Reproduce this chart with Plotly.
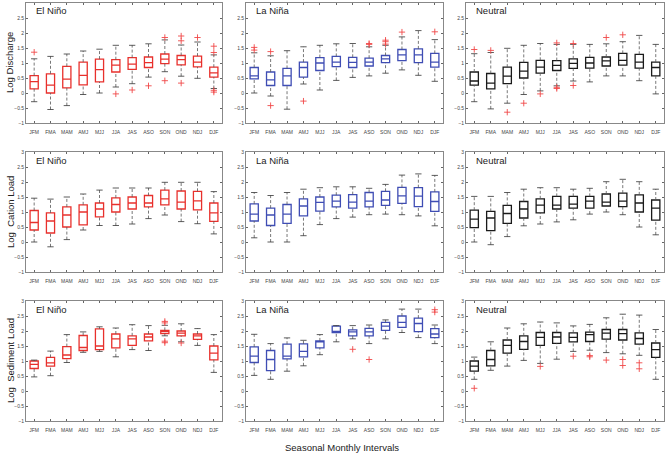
import plotly.graph_objects as go

months = ["JFM", "FMA", "MAM", "AMJ", "MJJ", "JJA", "JAS", "ASO", "SON", "OND", "NDJ", "DJF"]
phases = ["El Niño", "La Niña", "Neutral"]
variables = ["Log Discharge", "Log  Cation Load", "Log  Sediment Load"]

# ---- Log Discharge ----
dis_nino = dict(
    q1=[0.14, 0.00, 0.17, 0.27, 0.37, 0.70, 0.79, 0.85, 0.98, 0.94, 0.87, 0.53],
    med=[0.38, 0.26, 0.46, 0.59, 0.78, 0.93, 0.96, 1.01, 1.13, 1.11, 1.03, 0.67],
    q3=[0.58, 0.64, 0.89, 1.03, 1.13, 1.11, 1.18, 1.20, 1.30, 1.25, 1.23, 0.86],
    lo=[-0.29, -0.55, -0.42, -0.05, 0.00, 0.20, 0.31, 0.53, 0.71, 0.56, 0.49, 0.15],
    hi=[1.14, 1.22, 1.30, 1.40, 1.46, 1.59, 1.59, 1.64, 1.77, 1.60, 1.70, 1.27])
dis_nino_out = [[1.36], [], [], [], [], [-0.03], [0.10], [0.24], [1.85, 0.41],
                [1.90, 1.74, 0.33], [1.85], [1.56, 1.35, 0.09, 0.03]]

dis_nina = dict(
    q1=[0.47, 0.25, 0.25, 0.53, 0.75, 0.88, 0.85, 0.90, 1.01, 1.08, 1.01, 0.86],
    med=[0.57, 0.44, 0.57, 0.85, 1.00, 1.03, 1.02, 1.03, 1.14, 1.27, 1.27, 1.03],
    q3=[0.85, 0.70, 0.82, 1.03, 1.18, 1.22, 1.19, 1.16, 1.25, 1.45, 1.47, 1.32],
    lo=[0.00, -0.10, -0.54, 0.30, 0.10, 0.42, 0.52, 0.57, 0.66, 0.77, 0.59, 0.39],
    hi=[1.34, 1.24, 1.41, 1.54, 1.59, 1.64, 1.65, 1.54, 1.59, 1.87, 2.08, 1.78])
dis_nina_out = [[1.52, 1.43], [1.38, -0.42], [], [-0.27], [], [], [], [1.65, 1.62],
                [1.76, 1.71, 1.63], [2.03], [], [2.04]]

dis_neut = dict(
    q1=[0.26, 0.14, 0.31, 0.50, 0.66, 0.75, 0.82, 0.83, 0.90, 0.93, 0.83, 0.57],
    med=[0.40, 0.33, 0.56, 0.73, 0.86, 0.92, 0.99, 1.00, 1.07, 1.09, 1.03, 0.85],
    q3=[0.70, 0.65, 0.86, 1.02, 1.09, 1.08, 1.14, 1.19, 1.20, 1.32, 1.29, 1.03],
    lo=[-0.29, -0.53, -0.34, -0.05, 0.07, 0.24, 0.40, 0.37, 0.57, 0.57, 0.41, -0.03],
    hi=[1.31, 1.35, 1.49, 1.59, 1.65, 1.62, 1.62, 1.62, 1.64, 1.71, 1.92, 1.62])
dis_neut_out = [[1.45], [1.42], [-0.64], [-0.34], [-0.03], [1.67, 0.19, 0.15],
                [1.65, 0.25], [], [1.85], [1.94], [], []]

# ---- Log Cation Load ----
cat_nino = dict(
    q1=[0.40, 0.30, 0.50, 0.57, 0.84, 1.00, 1.10, 1.17, 1.24, 1.10, 1.07, 0.69],
    med=[0.65, 0.70, 0.90, 1.00, 1.10, 1.25, 1.30, 1.30, 1.44, 1.33, 1.37, 0.97],
    q3=[1.05, 0.97, 1.17, 1.24, 1.30, 1.47, 1.50, 1.55, 1.73, 1.70, 1.69, 1.30],
    lo=[0.00, -0.16, 0.08, 0.40, 0.55, 0.55, 0.60, 0.78, 0.90, 0.68, 0.61, 0.27],
    hi=[1.46, 1.43, 1.50, 1.60, 1.73, 1.80, 1.80, 1.80, 1.99, 1.99, 1.99, 1.68])
cat_nino_out = [[] for _ in range(12)]

cat_nina = dict(
    q1=[0.70, 0.55, 0.62, 0.87, 1.03, 1.17, 1.13, 1.17, 1.22, 1.29, 1.18, 1.02],
    med=[0.93, 0.90, 0.93, 1.20, 1.32, 1.36, 1.33, 1.36, 1.40, 1.54, 1.53, 1.35],
    q3=[1.27, 1.13, 1.25, 1.44, 1.50, 1.56, 1.58, 1.65, 1.69, 1.82, 1.81, 1.67],
    lo=[0.14, 0.00, 0.00, 0.21, 0.58, 0.78, 0.83, 0.91, 0.93, 0.91, 0.87, 0.54],
    hi=[1.65, 1.55, 1.65, 1.76, 1.81, 1.84, 1.84, 1.79, 1.92, 2.23, 2.27, 2.22])
cat_nina_out = [[] for _ in range(12)]

cat_neut = dict(
    q1=[0.48, 0.38, 0.62, 0.80, 0.97, 1.10, 1.13, 1.13, 1.20, 1.18, 1.00, 0.73],
    med=[0.76, 0.80, 0.95, 1.10, 1.23, 1.23, 1.26, 1.36, 1.33, 1.36, 1.30, 1.13],
    q3=[1.06, 1.02, 1.22, 1.35, 1.44, 1.52, 1.52, 1.52, 1.60, 1.63, 1.57, 1.40],
    lo=[0.00, -0.09, 0.18, 0.54, 0.60, 0.67, 0.74, 0.93, 1.00, 0.91, 0.50, 0.24],
    hi=[1.52, 1.52, 1.65, 1.76, 1.81, 1.81, 1.76, 1.79, 2.01, 2.09, 2.01, 1.76])
cat_neut_out = [[] for _ in range(12)]

# ---- Log Sediment Load ----
sed_nino = dict(
    q1=[0.75, 0.83, 1.08, 1.35, 1.38, 1.44, 1.52, 1.67, 1.91, 1.84, 1.72, 1.04],
    med=[0.89, 0.94, 1.20, 1.45, 1.50, 1.74, 1.74, 1.80, 1.98, 1.93, 1.84, 1.26],
    q3=[1.00, 1.12, 1.48, 1.85, 2.07, 1.90, 1.84, 1.90, 2.02, 2.00, 1.90, 1.50],
    lo=[0.47, 0.51, 0.95, 1.29, 1.32, 1.14, 1.38, 1.35, 1.84, 1.64, 1.52, 0.62],
    hi=[1.03, 1.33, 1.88, 1.97, 2.14, 2.10, 2.21, 2.18, 2.19, 2.24, 2.08, 1.88])
sed_nino_out = [[], [], [], [], [], [], [], [], [2.32, 2.27, 1.66, 1.61], [1.60], [], []]

sed_nina = dict(
    q1=[0.95, 0.68, 1.07, 1.14, 1.44, 1.95, 1.84, 1.84, 2.02, 2.12, 1.98, 1.78],
    med=[1.16, 1.05, 1.16, 1.32, 1.65, 1.97, 1.97, 1.97, 2.16, 2.29, 2.25, 1.90],
    q3=[1.47, 1.35, 1.56, 1.57, 1.67, 2.16, 2.04, 2.09, 2.29, 2.50, 2.43, 2.08],
    lo=[0.52, 0.39, 0.66, 0.84, 1.21, 1.64, 1.74, 1.58, 1.74, 1.95, 1.78, 1.58],
    hi=[1.89, 1.58, 1.77, 1.69, 1.88, 2.18, 2.18, 2.20, 2.37, 2.73, 2.73, 2.20])
sed_nina_out = [[], [], [], [], [], [], [1.39], [1.05], [], [], [], [2.71, 2.63]]

sed_neut = dict(
    q1=[0.66, 0.84, 1.26, 1.39, 1.52, 1.59, 1.64, 1.65, 1.73, 1.70, 1.56, 1.12],
    med=[0.83, 1.05, 1.52, 1.65, 1.79, 1.80, 1.79, 1.88, 1.93, 1.91, 1.75, 1.38],
    q3=[1.00, 1.35, 1.70, 1.84, 1.95, 1.95, 1.94, 1.96, 2.05, 2.05, 1.94, 1.60],
    lo=[0.39, 0.69, 0.83, 1.02, 0.92, 1.06, 1.32, 1.36, 1.28, 1.24, 1.19, 0.39],
    hi=[1.13, 1.64, 2.10, 2.24, 2.30, 2.27, 2.17, 2.22, 2.44, 2.56, 2.53, 2.05])
sed_neut_out = [[0.09], [], [], [], [0.82], [], [1.16], [1.18, 1.14], [1.03],
                [1.05, 0.85], [0.94, 0.74], []]

panels = [
    [(dis_nino, dis_nino_out), (dis_nina, dis_nina_out), (dis_neut, dis_neut_out)],
    [(cat_nino, cat_nino_out), (cat_nina, cat_nina_out), (cat_neut, cat_neut_out)],
    [(sed_nino, sed_nino_out), (sed_nina, sed_nina_out), (sed_neut, sed_neut_out)],
]

box_colors = ["#e8302c", "#3f4db4", "#1a1a1a"]
OUT_COLOR = "#f04848"
W, H = 669, 454
col_px = [(26, 222), (246, 443), (466, 664)]
row_px = [(3, 123), (152, 272), (301, 421)]
FONT = "Liberation Sans, Arial, sans-serif"

fig = go.Figure()
layout = dict(width=W, height=H, margin=dict(l=0, r=0, t=0, b=0),
              paper_bgcolor="white", plot_bgcolor="white", showlegend=False,
              font=dict(family=FONT, color="#333"))
annotations = []
xs = list(range(1, 13))

for r in range(3):
    for c in range(3):
        k = r * 3 + c + 1
        xa = "x" if k == 1 else f"x{k}"
        ya = "y" if k == 1 else f"y{k}"
        stats, outl = panels[r][c]
        col = box_colors[c]
        # whiskers (dashed)
        wx, wy = [], []
        for i in range(12):
            wx += [xs[i], xs[i], None, xs[i], xs[i], None]
            wy += [stats["q3"][i], stats["hi"][i], None, stats["lo"][i], stats["q1"][i], None]
        fig.add_trace(go.Scatter(x=wx, y=wy, mode="lines", xaxis=xa, yaxis=ya,
                                 line=dict(color="#555555", width=0.8, dash="3px,2px"),
                                 hoverinfo="skip"))
        # caps
        fig.add_trace(go.Scatter(x=xs + xs, y=stats["hi"] + stats["lo"], mode="markers",
                                 xaxis=xa, yaxis=ya,
                                 marker=dict(symbol="line-ew-open", size=4.5, color="#333333",
                                             line=dict(color="#333333", width=0.8)),
                                 hoverinfo="skip"))
        # boxes
        fig.add_trace(go.Box(x=xs, q1=stats["q1"], median=stats["med"], q3=stats["q3"],
                             lowerfence=stats["q1"], upperfence=stats["q3"],
                             xaxis=xa, yaxis=ya, width=0.5, whiskerwidth=0,
                             fillcolor="rgba(0,0,0,0)",
                             line=dict(color=col, width=1.3), boxpoints=False))
        # outliers
        ox, oy = [], []
        for i in range(12):
            for v in outl[i]:
                ox.append(xs[i]); oy.append(v)
        if ox:
            fig.add_trace(go.Scatter(x=ox, y=oy, mode="markers", xaxis=xa, yaxis=ya,
                                     marker=dict(symbol="cross-thin-open", size=4.5,
                                                 color=OUT_COLOR,
                                                 line=dict(color=OUT_COLOR, width=0.9))))
        x0, x1 = col_px[c]
        y0, y1 = row_px[r]
        axkey = "xaxis" if k == 1 else f"xaxis{k}"
        aykey = "yaxis" if k == 1 else f"yaxis{k}"
        layout[axkey] = dict(domain=[x0 / W, x1 / W], anchor=ya, range=[0.5, 12.5],
                             tickvals=xs, ticktext=months, ticks="inside", ticklen=2,
                             tickcolor="#666", showline=True, linecolor="#888",
                             linewidth=0.8, mirror="ticks", showgrid=False,
                             zeroline=False, tickfont=dict(size=5, color="#444"),
                             ticklabelstandoff=4, automargin=False)
        layout[aykey] = dict(domain=[1 - y1 / H, 1 - y0 / H], anchor=xa, range=[-1, 3],
                             tickvals=[-1, -0.5, 0, 0.5, 1, 1.5, 2, 2.5, 3],
                             ticks="inside", ticklen=2, tickcolor="#666",
                             showline=True, linecolor="#888", linewidth=0.8,
                             mirror="ticks", showgrid=False, zeroline=False,
                             tickfont=dict(size=5, color="#444"), automargin=False)
        annotations.append(dict(text=phases[c], x=(x0 + 8) / W, y=1 - (y0 + 8) / H,
                                xref="paper", yref="paper", xanchor="left",
                                yanchor="middle", showarrow=False,
                                font=dict(size=9.5, color="#222")))
    yc = (row_px[r][0] + row_px[r][1]) / 2
    annotations.append(dict(text=variables[r], x=10 / W, y=1 - yc / H, xref="paper",
                            yref="paper", xanchor="center", yanchor="middle",
                            textangle=-90, showarrow=False,
                            font=dict(size=9.5, color="#222")))

annotations.append(dict(text="Seasonal Monthly Intervals", x=342 / W, y=1 - 447 / H,
                        xref="paper", yref="paper", xanchor="center", yanchor="middle",
                        showarrow=False, font=dict(size=9.5, color="#222")))
layout["annotations"] = annotations
fig.update_layout(**layout)
fig.write_html("out.html", config={"displayModeBar": False},
               post_script="document.body.style.margin='0';document.body.style.overflow='hidden';")
